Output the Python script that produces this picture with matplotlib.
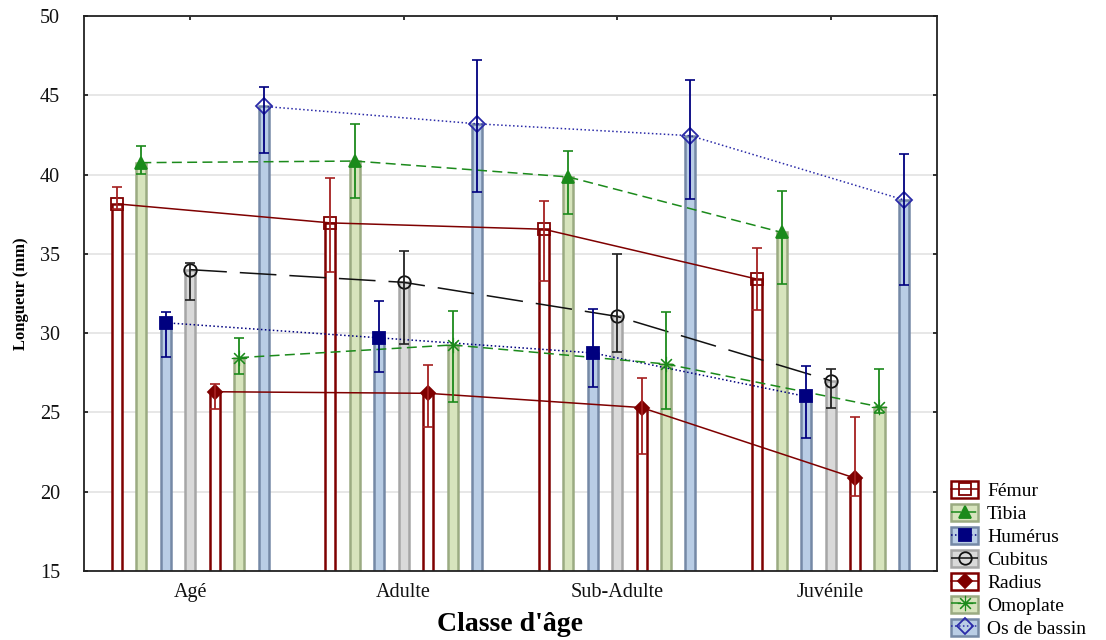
import matplotlib
matplotlib.use("Agg")
import matplotlib.pyplot as plt
from matplotlib.patches import Patch
from matplotlib.lines import Line2D
import numpy as np

plt.rcParams["font.family"] = ["Liberation Serif", "DejaVu Serif"]

# Age classes on the x axis
classes = ["Agé", "Adulte", "Sub-Adulte", "Juvénile"]

# Bones, in drawing order within each age class
bones = ["Fémur", "Tibia", "Humérus", "Cubitus", "Radius", "Omoplate", "Os de bassin"]

# Mean length (mm) per bone (rows) and age class (columns)
means = [
    [38.15, 36.95, 36.55, 33.40],  # Fémur
    [40.75, 40.85, 39.85, 36.35],  # Tibia
    [30.65, 29.70, 28.75, 26.00],  # Humérus
    [34.00, 33.20, 31.05, 27.00],  # Cubitus
    [26.30, 26.20, 25.30, 20.85],  # Radius
    [28.45, 29.25, 28.05, 25.35],  # Omoplate
    [44.30, 43.20, 42.45, 38.40],  # Os de bassin
]

# Lower and upper limits of the error bars (mm)
lower = [
    [37.80, 33.85, 33.30, 31.45],
    [40.05, 38.50, 37.50, 33.10],
    [28.50, 27.55, 26.60, 23.40],
    [32.10, 29.30, 28.80, 25.30],
    [25.20, 24.05, 22.35, 19.70],
    [27.45, 25.65, 25.20, 24.95],
    [41.35, 38.90, 38.45, 33.05],
]
upper = [
    [39.20, 39.80, 38.35, 35.35],
    [41.80, 43.20, 41.50, 38.95],
    [31.30, 32.05, 31.55, 27.95],
    [34.40, 35.15, 35.00, 27.75],
    [26.80, 28.00, 27.15, 24.70],
    [29.70, 31.40, 31.35, 27.75],
    [45.50, 47.25, 45.95, 41.30],
]

# Styling per bone: bar face, bar edge, line/marker colour, line style, marker
red = "#7f0000"
green = "#1b8a1b"
navy = "#00007f"
bar_face = ["white", "#d7e4bd", "#b9cde5", "#d9d9d9", "white", "#d7e4bd", "#b9cde5"]
bar_edge = [red, "#9bab82", "#7589a6", "#a6a6a6", red, "#9bab82", "#7589a6"]
line_col = [red, green, navy, "#111111", red, green, "#2a2aa8"]
err_col = ["#a52020", green, navy, "#222222", "#a52020", green, navy]
line_sty = ["-", (0, (6.5, 3.5)), (0, (1, 1.6)), (0, (24, 8.5)), "-",
            (0, (6.5, 3.5)), (0, (1, 1.6))]
markers = ["s", "^", "s", "o", "D", (8, 2, 0), "D"]
m_face = ["none", green, navy, "none", red, green, "none"]
m_size = [8, 9, 8, 9, 7, 11, 8]
m_edgew = [1.3, 1.3, 1.3, 1.3, 1.3, 0.8, 1.3]

fig = plt.figure(figsize=(11.06, 6.40), dpi=100)
ax = fig.add_axes([0.0755, 0.108, 0.772, 0.867])

x = np.arange(len(classes))
step = 0.1145
width = 0.047

for i, bone in enumerate(bones):
    xi = x + (i - 3) * step
    m = np.array(means[i])
    lo = m - np.array(lower[i])
    hi = np.array(upper[i]) - m
    ax.bar(xi, m, width=width, color=bar_face[i], edgecolor=bar_edge[i],
           linewidth=1.8, zorder=2)
    ax.plot(xi, m, color=line_col[i], linestyle=line_sty[i], linewidth=1.1,
            zorder=3)
    ax.plot(xi, m, linestyle="none", marker=markers[i], markersize=m_size[i],
            markerfacecolor=m_face[i], markeredgecolor=line_col[i],
            markeredgewidth=m_edgew[i], zorder=4)
    ax.errorbar(xi, m, yerr=[lo, hi], fmt="none", ecolor=err_col[i],
                elinewidth=1.3, capsize=3.5, capthick=1.2, zorder=5)

ax.set_xlim(-0.5, 3.5)
ax.set_ylim(15, 50)
ax.set_yticks(np.arange(15, 51, 5))
ax.set_xticks(x)
ax.set_xticklabels(classes)
ax.yaxis.grid(True, color="#e0e0e0", linewidth=1.1, zorder=0)
ax.set_axisbelow(True)
ax.tick_params(direction="in", length=3, width=1.2, top=True, right=True,
               labelsize=14.5, colors="#111111")
ax.tick_params(axis="y", pad=17)
ax.tick_params(axis="x", pad=9)
for s in ax.spines.values():
    s.set_linewidth(1.3)
    s.set_color("#222222")

ax.set_ylabel("Longueur (mm)", fontsize=12, fontweight="bold", labelpad=8)
ax.set_xlabel("Classe d'âge", fontsize=20, fontweight="bold", labelpad=7)

handles = []
for i in range(len(bones)):
    p = Patch(facecolor=bar_face[i], edgecolor=bar_edge[i], linewidth=1.8)
    ln = Line2D([], [], color=line_col[i], linestyle=line_sty[i], linewidth=1.1,
                marker=markers[i], markersize=m_size[i],
                markerfacecolor=m_face[i], markeredgecolor=line_col[i],
                markeredgewidth=m_edgew[i])
    handles.append((p, ln))

fig.legend(handles, bones, loc="lower left", bbox_to_anchor=(0.851, -0.012),
           frameon=False, fontsize=14, handlelength=1.4, handleheight=0.95,
           handletextpad=0.45, labelspacing=0.2, borderaxespad=0.1)

fig.savefig("out.png", dpi=100)
